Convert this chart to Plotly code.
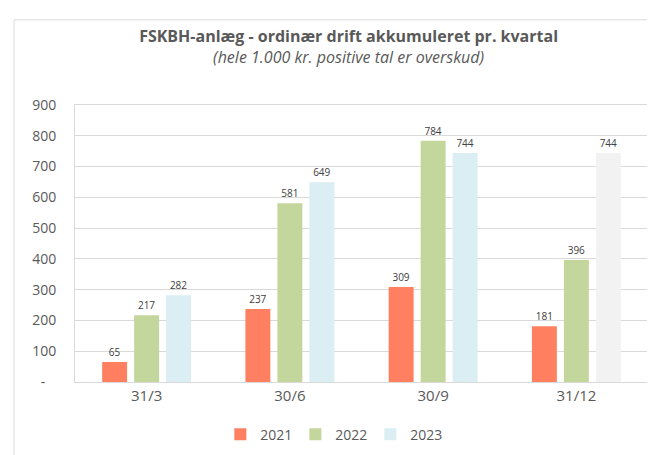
import plotly.graph_objects as go

categories = ["31/3", "30/6", "30/9", "31/12"]
years = ["2021", "2022", "2023"]
values_2021 = [65, 237, 309, 181]
values_2022 = [217, 581, 784, 396]
values_2023 = [282, 649, 744, 744]
tick_vals = [0, 100, 200, 300, 400, 500, 600, 700, 800, 900]
tick_text = ["-\u00a0\u00a0\u00a0", "100", "200", "300", "400", "500", "600", "700", "800", "900"]

colors = {"2021": "#FF7F61", "2022": "#C3D69B", "2023": "#DAEEF3"}
last_2023_color = "#F2F2F2"

font_family = "Open Sans"
fig = go.Figure()
for year, vals in zip(years, [values_2021, values_2022, values_2023]):
    if year == "2023":
        mcol = [colors[year]] * (len(vals) - 1) + [last_2023_color]
    else:
        mcol = colors[year]
    fig.add_trace(go.Bar(
        x=categories, y=vals, name=year,
        marker=dict(color=mcol, line=dict(width=0)),
        text=[str(v) for v in vals], textposition="outside",
        textfont=dict(size=10, color="#404040", family=font_family),
        cliponaxis=False,
    ))

fig.update_layout(
    width=655, height=455,
    margin=dict(l=67, r=15, t=97, b=75),
    paper_bgcolor="white", plot_bgcolor="white",
    barmode="group", bargap=0.33, bargroupgap=0.22,
    font=dict(family=font_family, color="#595959"),
    title=dict(
        text="<b>FSKBH-anlæg - ordinær drift akkumuleret pr. kvartal</b><br><span style='font-size:16px'><i>(hele 1.000 kr. positive tal er overskud)</i></span>",
        x=0.52, xanchor="center", y=0.925, yanchor="middle",
        font=dict(size=16, color="#595959", family=font_family),
    ),
    legend=dict(orientation="h", x=0.45, xanchor="center", y=-0.19, yanchor="middle",
                font=dict(size=14, color="#595959"), traceorder="normal",
                entrywidth=30, itemwidth=30),
    xaxis=dict(showgrid=False, showline=True, linecolor="#D9D9D9", linewidth=1, mirror=True,
               ticks="", tickfont=dict(size=15, color="#595959")),
    yaxis=dict(range=[0, 900], tickvals=tick_vals, ticktext=tick_text,
               showgrid=True, gridcolor="#D9D9D9", gridwidth=1,
               showline=True, linecolor="#D9D9D9", mirror=True, zeroline=False,
               ticks="outside", ticklen=15, tickcolor="rgba(0,0,0,0)",
               tickfont=dict(size=14, color="#595959")),
    shapes=[dict(type="rect", xref="paper", yref="paper",
                 x0=-61/573, x1=(662-67)/573, y0=(380-462)/283, y1=(380-10)/283,
                 line=dict(color="#D9D9D9", width=1), fillcolor="rgba(0,0,0,0)", layer="below")],
)

fig.write_html("out.html")
